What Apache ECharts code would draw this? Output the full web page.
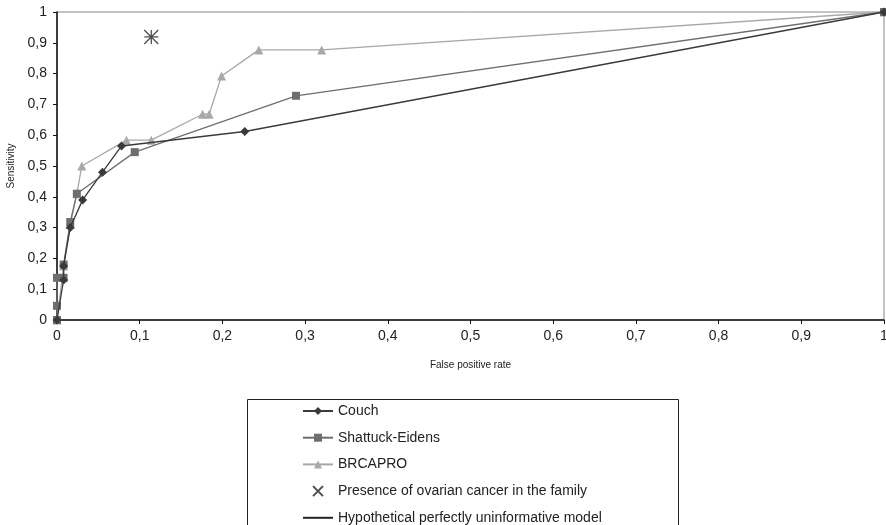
<!DOCTYPE html>
<html>
<head>
<meta charset="utf-8">
<script src="https://cdn.jsdelivr.net/npm/echarts@6/dist/echarts.min.js"></script>
<style>html,body{margin:0;padding:0;background:#fff}#c{width:886px;height:525px}</style>
</head>
<body>
<div id="c"></div>
<script>
var seriesNames = ['Couch', 'Shattuck-Eidens', 'BRCAPRO', 'Presence of ovarian cancer in the family', 'Hypothetical perfectly uninformative model'];
var couch = [[0,0],[0.008,0.13],[0.008,0.175],[0.016,0.30],[0.031,0.39],[0.055,0.48],[0.078,0.565],[0.227,0.612],[1,1]];
var shattuck = [[0,0],[0,0.046],[0,0.137],[0.008,0.137],[0.008,0.18],[0.016,0.318],[0.024,0.41],[0.094,0.545],[0.289,0.728],[1,1]];
var brcapro = [[0,0],[0.008,0.175],[0.016,0.31],[0.024,0.41],[0.030,0.50],[0.084,0.584],[0.114,0.584],[0.176,0.668],[0.184,0.668],[0.199,0.792],[0.244,0.877],[0.320,0.877],[1,1]];
var ovarian = [[0.114,0.919]];
var uninformative = [];

var fmt = function(v){ return String(Math.round(v*10)/10).replace('.', ','); };
var chart = echarts.init(document.getElementById('c'));
var font = 'Liberation Sans, Arial, sans-serif';
var asterisk = 'path://M0,0L10,10M10,0L0,10M5,0L5,10M0,5L10,5';
chart.setOption({
  animation: false,
  backgroundColor: '#fff',
  textStyle: {fontFamily: font},
  grid: {left: 57, right: 2, top: 12, bottom: 205, show: true, borderColor: '#888', borderWidth: 1, outerBoundsMode: 'none', containLabel: false},
  xAxis: {
    type: 'value', min: 0, max: 1, interval: 0.1,
    name: 'False positive rate', nameLocation: 'middle', nameGap: 40,
    nameTextStyle: {fontSize: 10, color: '#222', fontFamily: font},
    axisLine: {lineStyle: {color: '#111', width: 1.5}},
    axisTick: {show: true, length: 4, lineStyle: {color: '#111'}},
    axisLabel: {formatter: fmt, fontSize: 14, color: '#222', margin: 9, fontFamily: font},
    splitLine: {show: false}
  },
  yAxis: {
    type: 'value', min: 0, max: 1, interval: 0.1,
    name: 'Sensitivity', nameLocation: 'middle', nameGap: 40, nameRotate: 90,
    nameTextStyle: {fontSize: 10, color: '#222', fontFamily: font},
    axisLine: {show: true, lineStyle: {color: '#111', width: 1.5}},
    axisTick: {show: true, length: 4, lineStyle: {color: '#111'}},
    axisLabel: {formatter: fmt, fontSize: 14, color: '#222', margin: 10, fontFamily: font},
    splitLine: {show: false}
  },
  legend: {
    orient: 'vertical', left: 302, top: 404, height: 200, itemGap: 12.7, itemWidth: 30, itemHeight: 10,
    padding: 0,
    textStyle: {fontSize: 14, color: '#222', fontFamily: font},
    data: [
      {name: seriesNames[0]}, {name: seriesNames[1]}, {name: seriesNames[2]},
      {name: seriesNames[3], icon: 'path://M0,0L10,10M10,0L0,10'},
      {name: seriesNames[4], itemStyle: {opacity: 0}}
    ]
  },
  graphic: [{type: 'rect', left: 245, top: 397, shape: {width: 431, height: 140}, style: {fill: 'none', stroke: '#222', lineWidth: 1}, z: -1}],
  series: [
    {name: seriesNames[0], type: 'line', data: couch, symbol: 'diamond', symbolSize: 9,
     lineStyle: {color: '#3a3a3a', width: 1.3}, itemStyle: {color: '#3a3a3a'}, z: 4},
    {name: seriesNames[1], type: 'line', data: shattuck, symbol: 'rect', symbolSize: 8,
     lineStyle: {color: '#6e6e6e', width: 1.3}, itemStyle: {color: '#6e6e6e'}, z: 3},
    {name: seriesNames[2], type: 'line', data: brcapro, symbol: 'triangle', symbolSize: 9,
     lineStyle: {color: '#a8a8a8', width: 1.3}, itemStyle: {color: '#a8a8a8'}, z: 2},
    {name: seriesNames[3], type: 'scatter', data: ovarian, symbol: asterisk, symbolSize: 14,
     itemStyle: {color: 'rgba(0,0,0,0)', borderColor: '#222', borderWidth: 1.3}, z: 5},
    {name: seriesNames[4], type: 'line', data: uninformative, showSymbol: false, symbol: 'none',
     lineStyle: {color: '#222', width: 1.2}, itemStyle: {color: '#222'}}
  ]
});
</script>
</body>
</html>
